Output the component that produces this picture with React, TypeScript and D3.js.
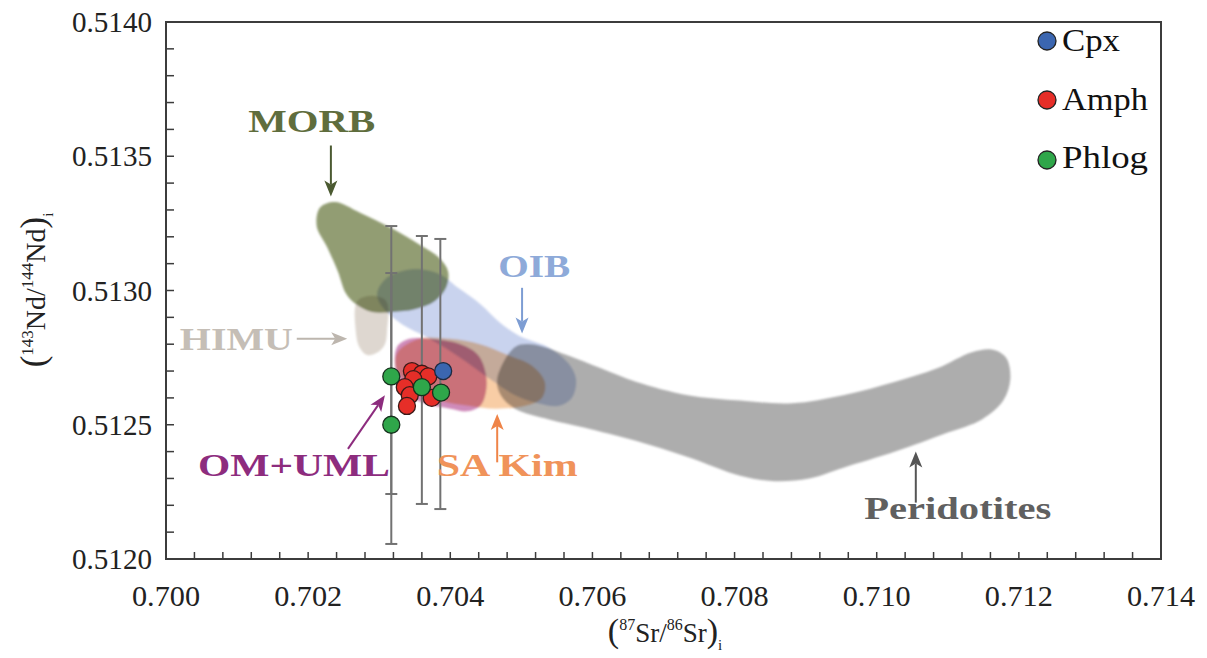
import React from "react";
import * as d3 from "d3";

// ---------- data (isotope ratios) ----------
const xTicks = [0.700, 0.702, 0.704, 0.706, 0.708, 0.710, 0.712, 0.714];
const yTicks = [0.5120, 0.5125, 0.5130, 0.5135, 0.5140];

const cpx: [number, number][] = [[0.70390, 0.51270]];
const amph: [number, number][] = [
  [0.70346, 0.51270], [0.70360, 0.51269], [0.70369, 0.51268], [0.70348, 0.51267],
  [0.70336, 0.51264], [0.70343, 0.51261], [0.70374, 0.51260], [0.70339, 0.51257],
];
const phlog: [number, number][] = [
  [0.70317, 0.51268], [0.70317, 0.51250], [0.70360, 0.51264], [0.70387, 0.51262],
];
// error bars: x, low, high
const errorBars: [number, number, number][] = [
  [0.70317, 0.512056, 0.51324],
  [0.70317, 0.512242, 0.513065],
  [0.70360, 0.512205, 0.513203],
  [0.70386, 0.512186, 0.513192],
];

const peridotites: [number, number][] = [
  [0.70466, 0.51267], [0.70491, 0.51279], [0.70515, 0.51280], [0.70564, 0.51276],
  [0.70612, 0.51271], [0.70661, 0.51266], [0.70734, 0.51261], [0.70808, 0.51259],
  [0.70881, 0.51258], [0.70953, 0.51261], [0.71026, 0.51266], [0.71085, 0.51271],
  [0.71134, 0.51277], [0.71162, 0.51278], [0.71182, 0.51275], [0.71188, 0.51267],
  [0.71178, 0.51259], [0.71148, 0.51252], [0.71099, 0.51247], [0.71026, 0.51240],
  [0.70953, 0.51234], [0.70905, 0.51230], [0.70856, 0.51229], [0.70808, 0.51231],
  [0.70734, 0.51238], [0.70661, 0.51244], [0.70588, 0.51249], [0.70539, 0.51252],
  [0.70491, 0.51256], [0.70471, 0.51261],
];
const morb: [number, number][] = [
  [0.70217, 0.51331], [0.70238, 0.51333], [0.70273, 0.51329], [0.70319, 0.51323],
  [0.70357, 0.51317], [0.70385, 0.51312], [0.70397, 0.51307], [0.70394, 0.51301],
  [0.70378, 0.51296], [0.70350, 0.51293], [0.70319, 0.51292], [0.70290, 0.51292],
  [0.70267, 0.51295], [0.70253, 0.51299], [0.70242, 0.51307], [0.70227, 0.51316],
  [0.70212, 0.51324],
];
const himu: [number, number][] = [
  [0.70269, 0.51296], [0.70290, 0.51298], [0.70310, 0.51296], [0.70311, 0.51285],
  [0.70308, 0.51280], [0.70298, 0.51277], [0.70283, 0.51276], [0.70272, 0.51279],
  [0.70267, 0.51285],
];
const oib: [number, number][] = [
  [0.70297, 0.51299], [0.70312, 0.51305], [0.70350, 0.51308], [0.70386, 0.51306],
  [0.70411, 0.51301], [0.70442, 0.51295], [0.70470, 0.51288], [0.70498, 0.51283],
  [0.70537, 0.51279], [0.70566, 0.51273], [0.70577, 0.51267], [0.70571, 0.51260],
  [0.70552, 0.51257], [0.70523, 0.51258], [0.70491, 0.51261], [0.70456, 0.51267],
  [0.70414, 0.51275], [0.70371, 0.51282], [0.70329, 0.51288], [0.70304, 0.51294],
];
const saKim: [number, number][] = [
  [0.70326, 0.51277], [0.70357, 0.51282], [0.70400, 0.51282], [0.70442, 0.51280],
  [0.70481, 0.51276], [0.70515, 0.51272], [0.70533, 0.51266], [0.70529, 0.51260],
  [0.70505, 0.51257], [0.70463, 0.51256], [0.70428, 0.51257], [0.70386, 0.51259],
  [0.70343, 0.51265], [0.70324, 0.51271],
];
const omUml: [number, number][] = [
  [0.70325, 0.51279], [0.70343, 0.51282], [0.70371, 0.51282], [0.70414, 0.51280],
  [0.70439, 0.51276], [0.70450, 0.51269], [0.70450, 0.51262], [0.70442, 0.51257],
  [0.70424, 0.51255], [0.70400, 0.51256], [0.70364, 0.51258], [0.70336, 0.51262],
  [0.70324, 0.51269],
];

// annotations: label text, label x, label baseline y, arrow from, arrow to
const labelNames = ["MORB", "OIB", "HIMU", "OM+UML", "SA Kim", "Peridotites"];
const labelPos: [number, number][] = [
  [0.70205, 0.51359], [0.70518, 0.51305], [0.70099, 0.51278],
  [0.70180, 0.51231], [0.70480, 0.51231], [0.71114, 0.51215],
];
const arrowFrom: [number, number][] = [
  [0.70232, 0.51354], [0.70501, 0.51301], [0.70184, 0.51282],
  [0.70256, 0.51241], [0.70466, 0.51236], [0.71055, 0.51221],
];
const arrowTo: [number, number][] = [
  [0.70232, 0.51335], [0.70501, 0.51284], [0.70255, 0.51282],
  [0.70308, 0.51261], [0.70466, 0.51254], [0.71055, 0.51240],
];

// ---------- styles ----------
const W = 1207, H = 658;
const L = 166, R = 1161, T = 22, B = 559;
const serif = "'Liberation Serif', 'DejaVu Serif', serif";
const labelColors = ["#5f6d3d", "#8eaad9", "#c5beb6", "#8d2c7e", "#f0935a", "#606060"];
const arrowColors = ["#4b5a31", "#7d9dd3", "#bdb6ae", "#8d2c7e", "#ef8448", "#555555"];
const labelWidths = [127, 72, 113, 192, 141, 187];

const x = d3.scaleLinear().domain([0.700, 0.714]).range([L, R]);
const y = d3.scaleLinear().domain([0.5120, 0.5140]).range([B, T]);

const shapeLine = d3
  .line<[number, number]>()
  .x((d) => x(d[0]))
  .y((d) => y(d[1]))
  .curve(d3.curveCatmullRomClosed.alpha(0.5));

const fields = [
  { pts: peridotites, fill: "#a9a9a9", op: 0.95 },
  { pts: himu, fill: "#dcd5ce", op: 0.95 },
  { pts: oib, fill: "#c0cbeb", op: 0.85 },
  { pts: saKim, fill: "#f6c08f", op: 0.8 },
  { pts: morb, fill: "#8c986c", op: 0.95 },
  { pts: omUml, fill: "#c26aa6", op: 0.78 },
];

function Arrow({ from, to, color }: { from: [number, number]; to: [number, number]; color: string }) {
  const x1 = x(from[0]), y1 = y(from[1]), x2 = x(to[0]), y2 = y(to[1]);
  const dx = x2 - x1, dy = y2 - y1;
  const len = Math.hypot(dx, dy);
  const ux = dx / len, uy = dy / len;
  const hl = 16, hw = 6.5;
  const bx = x2 - ux * hl, by = y2 - uy * hl;
  const mx = x2 - ux * (hl - 4), my = y2 - uy * (hl - 4);
  const px = -uy, py = ux;
  const head = `M${x2},${y2} L${bx + px * hw},${by + py * hw} L${mx},${my} L${bx - px * hw},${by - py * hw} Z`;
  return (
    <g>
      <line x1={x1} y1={y1} x2={mx} y2={my} stroke={color} strokeWidth={2} />
      <path d={head} fill={color} />
    </g>
  );
}

const tStyle = { fontFamily: serif };

export default function App() {
  const yMinor = d3.range(0.5120, 0.51401, 0.0001);
  const xMinor = d3.range(0.700, 0.71401, 0.0004);
  const legend = [
    { name: "Cpx", color: "#3b66b0", cy: 41, ty: 51 },
    { name: "Amph", color: "#e62e28", cy: 100, ty: 110 },
    { name: "Phlog", color: "#2fa64a", cy: 160, ty: 168 },
  ];
  const legendWidths = [58, 86, 86];
  return (
    <svg
      width={W}
      height={H}
      style={{ position: "absolute", left: 0, top: 0, display: "block", background: "#fff" }}
    >
      <defs>
        <filter id="soft" x="-10%" y="-10%" width="120%" height="120%">
          <feGaussianBlur stdDeviation={1.2} />
        </filter>
      </defs>
      {/* fields */}
      <g filter="url(#soft)">
        {fields.map((f, i) => (
          <path
            key={i}
            d={shapeLine(f.pts) || ""}
            fill={f.fill}
            fillOpacity={f.op}
            style={{ mixBlendMode: "multiply" }}
          />
        ))}
      </g>

      {/* error bars */}
      {errorBars.map(([ex, lo, hi], i) => (
        <g key={i} stroke="#727272" strokeWidth={2}>
          <line x1={x(ex)} x2={x(ex)} y1={y(lo)} y2={y(hi)} />
          <line x1={x(ex) - 6} x2={x(ex) + 6} y1={y(lo)} y2={y(lo)} />
          <line x1={x(ex) - 6} x2={x(ex) + 6} y1={y(hi)} y2={y(hi)} />
        </g>
      ))}

      {/* points */}
      {amph.map((d, i) => (
        <circle key={"a" + i} cx={x(d[0])} cy={y(d[1])} r={8.5} fill="#e62e28" stroke="#3a1a18" strokeWidth={1.3} />
      ))}
      {cpx.map((d, i) => (
        <circle key={"c" + i} cx={x(d[0])} cy={y(d[1])} r={8.5} fill="#3b66b0" stroke="#1e2a40" strokeWidth={1.3} />
      ))}
      {phlog.map((d, i) => (
        <circle key={"p" + i} cx={x(d[0])} cy={y(d[1])} r={8.5} fill="#2fa64a" stroke="#15301c" strokeWidth={1.3} />
      ))}

      {/* annotations */}
      {labelNames.map((name, i) => (
        <g key={name}>
          <Arrow from={arrowFrom[i]} to={arrowTo[i]} color={arrowColors[i]} />
          <text
            x={x(labelPos[i][0])}
            y={y(labelPos[i][1])}
            textAnchor="middle"
            fontWeight="bold"
            fontSize={31}
            fill={labelColors[i]}
            textLength={labelWidths[i]}
            lengthAdjust="spacingAndGlyphs"
            style={tStyle}
          >
            {name}
          </text>
        </g>
      ))}

      {/* frame */}
      <rect x={L} y={T} width={R - L} height={B - T} fill="none" stroke="#3c3c3c" strokeWidth={2} />

      {/* ticks */}
      {yMinor.map((v, i) => (
        <line key={"ym" + i} x1={L} x2={L + 8} y1={y(v)} y2={y(v)} stroke="#3c3c3c" strokeWidth={1.5} />
      ))}
      {xMinor.map((v, i) => (
        <line key={"xm" + i} x1={x(v)} x2={x(v)} y1={B} y2={B - 7} stroke="#3c3c3c" strokeWidth={1.5} />
      ))}
      {yTicks.map((v) => (
        <text key={"yt" + v} x={152} y={y(v) + 10} textAnchor="end" fontSize={29} fill="#222"
          textLength={80} lengthAdjust="spacingAndGlyphs" style={tStyle}>
          {v.toFixed(4)}
        </text>
      ))}
      {xTicks.map((v) => (
        <text key={"xt" + v} x={x(v)} y={606} textAnchor="middle" fontSize={30} fill="#222"
          textLength={68} lengthAdjust="spacingAndGlyphs" style={tStyle}>
          {v.toFixed(3)}
        </text>
      ))}

      {/* axis titles */}
      <text x={665} y={642} textAnchor="middle" fontSize={27} fill="#222" style={tStyle}>
        <tspan fontSize={34}>(</tspan>
        <tspan fontSize={16} dy={-12}>87</tspan>
        <tspan dy={12}>Sr/</tspan>
        <tspan fontSize={16} dy={-12}>86</tspan>
        <tspan dy={12}>Sr</tspan>
        <tspan fontSize={34}>)</tspan>
        <tspan fontSize={15} dy={8}>i</tspan>
      </text>
      <text transform="translate(45,290) rotate(-90)" textAnchor="middle" fontSize={28} fill="#222" style={tStyle}>
        <tspan fontSize={35}>(</tspan>
        <tspan fontSize={17} dy={-12}>143</tspan>
        <tspan dy={12}>Nd/</tspan>
        <tspan fontSize={17} dy={-12}>144</tspan>
        <tspan dy={12}>Nd</tspan>
        <tspan fontSize={35}>)</tspan>
        <tspan fontSize={15} dy={8}>i</tspan>
      </text>

      {/* legend */}
      {legend.map((l, i) => (
        <g key={l.name}>
          <circle cx={1047} cy={l.cy} r={9} fill={l.color} stroke="#222" strokeWidth={1.3} />
          <text x={1062} y={l.ty} fontSize={31} fill="#111" textLength={legendWidths[i]}
            lengthAdjust="spacingAndGlyphs" style={tStyle}>
            {l.name}
          </text>
        </g>
      ))}
    </svg>
  );
}
